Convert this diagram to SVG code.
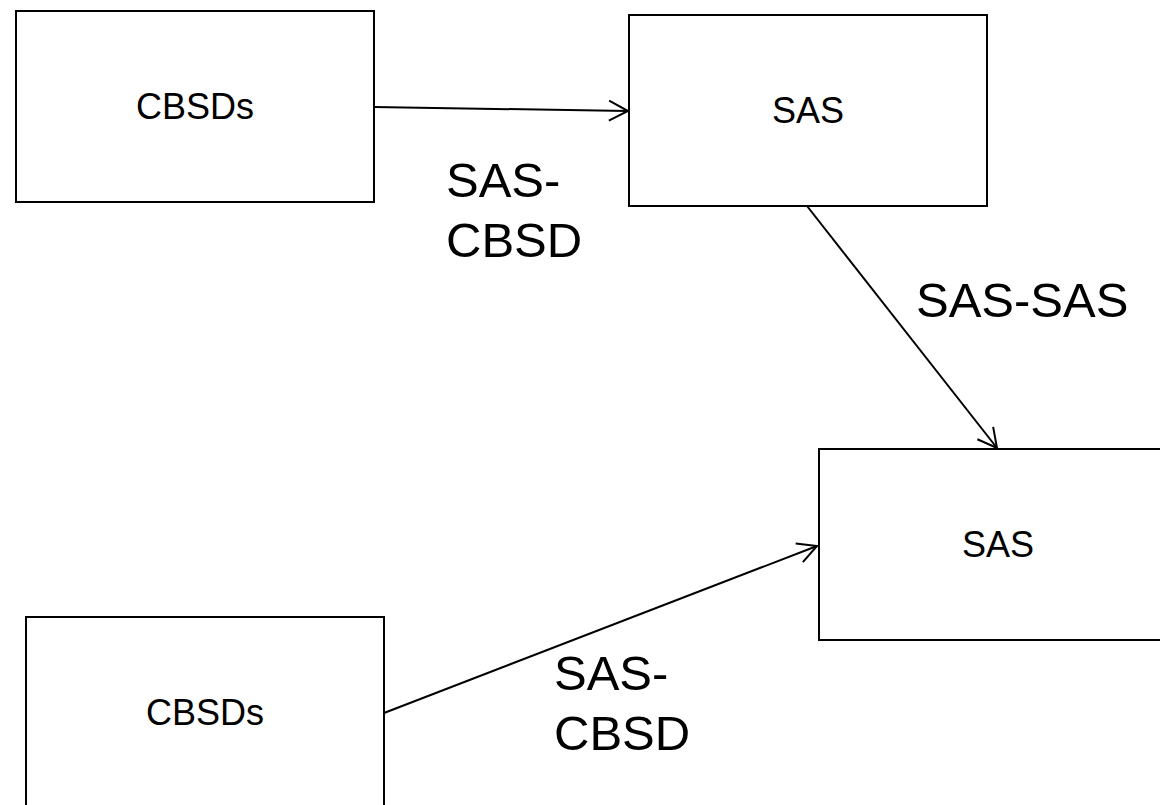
<svg xmlns="http://www.w3.org/2000/svg" width="1160" height="805" viewBox="0 0 1160 805">
<style>
.box{fill:#fff;stroke:#000;stroke-width:2}
.t{font-family:"Liberation Sans",Arial,sans-serif;font-size:36px;fill:#000;text-anchor:middle}
.lbl{font-family:"Liberation Sans",Arial,sans-serif;font-size:49px;fill:#000}
.conn{fill:none;stroke:#000;stroke-width:2}
</style>
<defs>
<marker id="arr" markerUnits="userSpaceOnUse" markerWidth="30" markerHeight="30" refX="21" refY="11" orient="auto" overflow="visible">
<path d="M2,1 L21,11 L2,21" fill="none" stroke="#000" stroke-width="2"/>
</marker>
</defs>
<rect width="1160" height="805" fill="#fff"/>
<g id="cbsd1"><rect class="box" x="16" y="11" width="358" height="191"/><text class="t" x="195" y="119">CBSDs</text></g>
<g id="sas1"><rect class="box" x="629" y="15" width="358" height="191"/><text class="t" x="808" y="123">SAS</text></g>
<g id="sas2"><rect class="box" x="819" y="449" width="358" height="191"/><text class="t" x="998" y="557">SAS</text></g>
<g id="cbsd2"><rect class="box" x="26" y="617" width="358" height="191"/><text class="t" x="205" y="725">CBSDs</text></g>
<g id="connectors">
<line class="conn" x1="374" y1="107" x2="628" y2="111" marker-end="url(#arr)"/>
<line class="conn" x1="807" y1="206" x2="997" y2="448" marker-end="url(#arr)"/>
<line class="conn" x1="384" y1="713" x2="817" y2="546" marker-end="url(#arr)"/>
</g>
<g id="labels">
<text class="lbl" x="446" y="197">SAS-</text>
<text class="lbl" x="446" y="257">CBSD</text>
<text class="lbl" x="916" y="317">SAS-SAS</text>
<text class="lbl" x="554" y="690">SAS-</text>
<text class="lbl" x="554" y="750">CBSD</text>
</g>
</svg>
